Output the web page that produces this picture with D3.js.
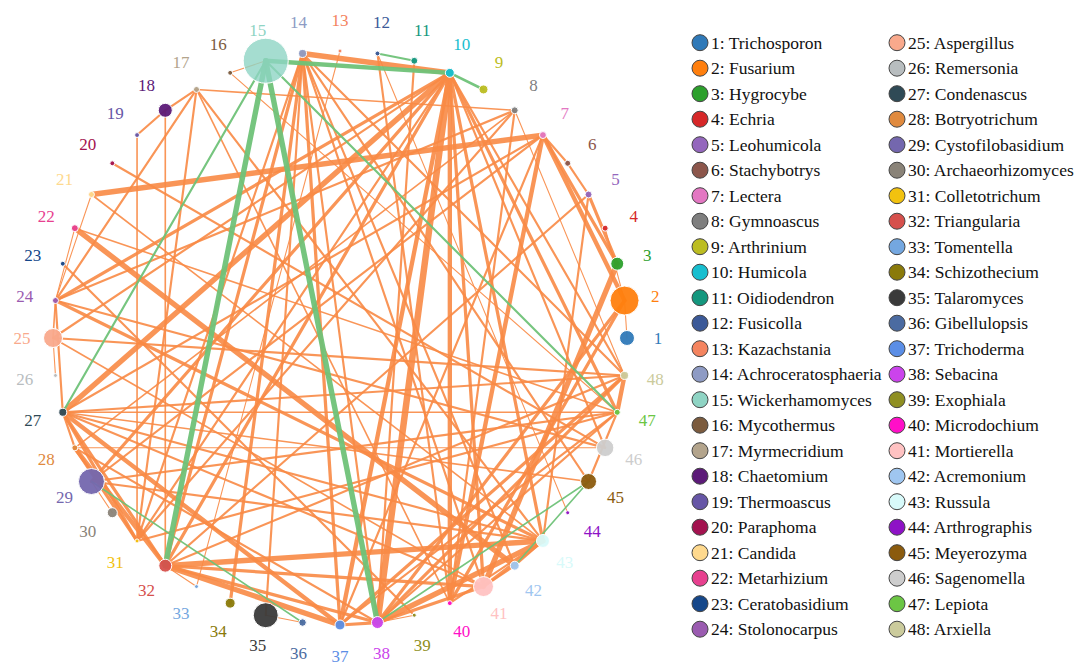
<!DOCTYPE html>
<html>
<head>
<meta charset="utf-8">
<script src="https://cdn.jsdelivr.net/npm/d3@7"></script>
<style>
  html, body { margin: 0; padding: 0; background: #fff; }
  svg { display: block; }
  text { font-family: 'Liberation Serif', 'Times New Roman', serif; }
</style>
</head>
<body>
<svg id="chart" width="1084" height="665"></svg>
<script>
// ---------- DATA ----------
const genera = ["Trichosporon","Fusarium","Hygrocybe","Echria","Leohumicola","Stachybotrys","Lectera","Gymnoascus","Arthrinium","Humicola","Oidiodendron","Fusicolla","Kazachstania","Achroceratosphaeria","Wickerhamomyces","Mycothermus","Myrmecridium","Chaetomium","Thermoascus","Paraphoma","Candida","Metarhizium","Ceratobasidium","Stolonocarpus","Aspergillus","Remersonia","Condenascus","Botryotrichum","Cystofilobasidium","Archaeorhizomyces","Colletotrichum","Triangularia","Tomentella","Schizothecium","Talaromyces","Gibellulopsis","Trichoderma","Sebacina","Exophiala","Microdochium","Mortierella","Acremonium","Russula","Arthrographis","Meyerozyma","Sagenomella","Lepiota","Arxiella"];

const generaColors = ["#2f79b8","#ff7f0e","#2ca02c","#d62728","#9467bd","#8c564b","#e377c2","#7f7f7f","#bcbd22","#17becf","#14977e","#3b5998","#f4845f","#8e9bc4","#8fd4c4","#7b5b3e","#b3a48c","#5c1a78","#6656a6","#a3124f","#fed98e","#e7408f","#15478a","#9a5bb0","#f9a98c","#b8bdbf","#2f4a56","#e08a3e","#7467ae","#8a8378","#f2c20f","#d6504c","#74a7e0","#8a7a0a","#3a3a3a","#4b6ba1","#5b8ee6","#cb43ec","#8f8f22","#ff0fc8","#ffc2c2","#9fc6f0","#d8fafa","#8e12c6","#8b5b0e","#cdcdcd","#6cc644","#cbcb9c"];

// relative abundance (node area)
const abundance = [56,210,42,9,12,9,12,12,20,20,12,6,4,16,506,6,9,49,6,6,9,12,6,9,90,4,16,9,169,25,4,42,4,25,156,14,25,36,4,6,100,20,42,4,64,76,9,16];

// positive correlations: [source, target, strength]
const posEdges = [
  [14,10,5],[17,8,1.5],[17,18,2],[16,15,1],[16,47,1],[13,33,1],[17,31,2],[17,43,2],[17,24,2],
  [18,32,1.5],[19,18,2],[19,31,1.5],[20,46,2],[21,7,5],[21,24,1],[22,42,5],[22,24,1],[23,39,2],
  [24,10,3],[24,8,2],[24,46,2],[24,43,3],[24,27,2],[25,48,2],[25,24,1.5],[26,25,1],
  [27,10,5],[27,47,1.5],[27,48,2],[27,31,3],[27,37,4],[27,32,3],[27,41,2],[27,43,2],[27,28,2],[7,27,2],
  [28,31,3],[28,32,4],[28,38,2],[30,29,1],[32,43,5],[32,37,5],[32,41,3],[32,5,2],[32,14,3],[32,10,3],[32,38,3],
  [33,32,1],[34,14,3],[14,31,2],[14,35,2],[14,42,2],[14,45,2],[14,37,3],[14,38,2],
  [10,38,6],[10,37,4],[10,40,4],[10,43,3],[10,47,3],[10,48,2],[10,46,2],[10,29,3],[10,41,3],
  [7,40,4],[7,2,4],[7,3,3],[7,6,2],[6,5,2],[5,3,3],[4,2,1],[2,1,1],[5,43,2],[3,41,5],[2,40,3],
  [8,31,2],[8,40,2],[8,48,1],[38,43,5],[38,41,3],[38,39,1],[38,37,3],[38,47,2],[38,48,3],[37,48,3],
  [41,42,2],[42,43,2],[40,43,2],[41,43,3],[44,12,1],[47,31,2],[47,29,2],[47,48,4],[47,45,2],
  [48,32,2],[48,14,2],[35,36,1],[11,38,2],[12,40,2],[29,43,2],[25,41,1.5],[22,47,1.5],
  [14,41,2],[10,25,2],[10,31,2],[7,29,2],[8,28,1.5],[47,37,2],[2,38,3],[43,21,1.5],[45,27,1.5],[40,17,1.5],[37,7,2],[46,28,1]
];

// negative correlations
const negEdges = [
  [15,10,4],[15,32,5],[15,38,5],[15,27,2],[15,47,2],[12,11,2],[10,9,2.5],[29,36,1.5],[38,45,1.5],[42,45,1.5]
];

// ---------- LAYOUT ----------
const svg = d3.select("#chart");
const cx = 340, cy = 338, R = 287, labelR = 318;
const n = genera.length;

const angle = d3.scaleLinear().domain([0, n]).range([0, 2 * Math.PI]);
const rScale = d3.scaleSqrt().domain([0, d3.max(abundance)]).range([0, 22.5]);
const wScale = d3.scaleLinear().domain([0, 6]).range([0, 6.5]);

const nodes = genera.map((g, i) => {
  const a = angle(i);
  return {
    id: i + 1, name: g, color: generaColors[i], r: rScale(abundance[i]),
    x: cx + R * Math.cos(a), y: cy - R * Math.sin(a),
    lx: cx + labelR * Math.cos(a), ly: cy - labelR * Math.sin(a)
  };
});

const gEdges = svg.append("g");
function drawEdges(list, color, opacity) {
  gEdges.selectAll(null).data(list).enter().append("line")
    .attr("x1", d => nodes[d[0] - 1].x).attr("y1", d => nodes[d[0] - 1].y)
    .attr("x2", d => nodes[d[1] - 1].x).attr("y2", d => nodes[d[1] - 1].y)
    .attr("stroke", color).attr("stroke-opacity", opacity)
    .attr("stroke-width", d => wScale(d[2]))
    .attr("stroke-linecap", "round");
}
drawEdges(posEdges, "#f88a45", 0.9);
drawEdges(negEdges, "#6fc278", 0.95);

const gNodes = svg.append("g");
gNodes.selectAll("circle").data(nodes).enter().append("circle")
  .attr("cx", d => d.x).attr("cy", d => d.y).attr("r", d => d.r)
  .attr("fill", d => d.color)
  .attr("fill-opacity", d => d.id === 15 ? 0.8 : 0.95)
  .attr("stroke", "#ffffff").attr("stroke-width", 1);

gNodes.selectAll("text").data(nodes).enter().append("text")
  .attr("x", d => d.lx).attr("y", d => d.ly)
  .attr("text-anchor", "middle").attr("dominant-baseline", "central")
  .attr("font-size", 17)
  .attr("fill", d => d.color)
  .text(d => d.id);

// ---------- LEGEND ----------
const legend = svg.append("g");
const rowH = 25.5, top0 = 42.7;
const cols = [{cxp: 700, tx: 711}, {cxp: 897, tx: 908}];
const items = legend.selectAll("g").data(nodes).enter().append("g")
  .attr("transform", (d, i) => {
    const c = cols[Math.floor(i / 24)];
    return `translate(${c.cxp},${top0 + (i % 24) * rowH})`;
  });
items.append("circle").attr("r", 8).attr("fill", d => d.color)
  .attr("stroke", "#444").attr("stroke-width", 1);
items.append("text").attr("x", 11).attr("y", 0)
  .attr("dominant-baseline", "central")
  .attr("font-size", 17.5).attr("fill", "#111")
  .text(d => `${d.id}: ${d.name}`);
</script>
</body>
</html>
